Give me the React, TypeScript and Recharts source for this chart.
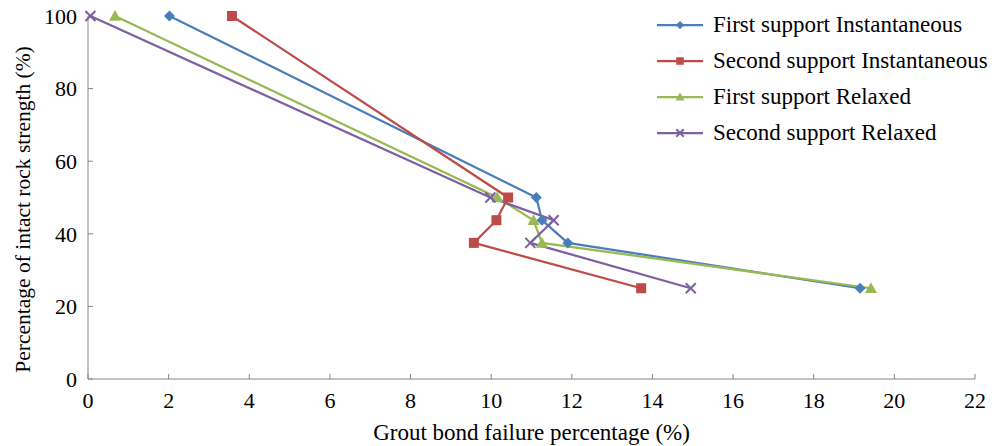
import { LineChart, Line, XAxis, YAxis } from 'recharts';

const strengthLevels = [100, 50, 43.75, 37.5, 25];
const firstInstantX = [2.02, 11.12, 11.26, 11.9, 19.15];
const secondInstantX = [3.57, 10.42, 10.13, 9.57, 13.72];
const firstRelaxedX = [0.67, 10.15, 11.05, 11.26, 19.42];
const secondRelaxedX = [0.06, 9.98, 11.55, 10.97, 14.95];
const xTicks = [0, 2, 4, 6, 8, 10, 12, 14, 16, 18, 20, 22];
const yTicks = [0, 20, 40, 60, 80, 100];

const FONT = '"Liberation Serif", "Times New Roman", serif';
const AXIS = '#868686';

type Shape = 'diamond' | 'square' | 'triangle' | 'cross';

const series: { name: string; xs: number[]; color: string; shape: Shape }[] = [
  { name: 'First support Instantaneous', xs: firstInstantX, color: '#4A7EBB', shape: 'diamond' },
  { name: 'Second support Instantaneous', xs: secondInstantX, color: '#BE4B48', shape: 'square' },
  { name: 'First support Relaxed', xs: firstRelaxedX, color: '#98B954', shape: 'triangle' },
  { name: 'Second support Relaxed', xs: secondRelaxedX, color: '#7D60A0', shape: 'cross' },
];

function Marker({ cx, cy, shape, color, r }: { cx: number; cy: number; shape: Shape; color: string; r: number }) {
  if (shape === 'diamond')
    return <polygon points={`${cx},${cy - r} ${cx + r},${cy} ${cx},${cy + r} ${cx - r},${cy}`} fill={color} />;
  if (shape === 'square')
    return <rect x={cx - r} y={cy - r} width={r * 2} height={r * 2} fill={color} />;
  if (shape === 'triangle')
    return <polygon points={`${cx},${cy - r} ${cx + r},${cy + r * 0.8} ${cx - r},${cy + r * 0.8}`} fill={color} />;
  return (
    <g stroke={color} strokeWidth={2}>
      <line x1={cx - r} y1={cy - r} x2={cx + r} y2={cy + r} />
      <line x1={cx - r} y1={cy + r} x2={cx + r} y2={cy - r} />
    </g>
  );
}

const markerSize: Record<Shape, number> = { diamond: 5.5, square: 5, triangle: 6, cross: 5 };

// legend drawn over the chart so it does not take plot space
function LegendBox() {
  return (
    <svg width={350} height={150} style={{ position: 'absolute', left: 650, top: 6 }}>
      {series.map((s, i) => {
        const y = 19 + i * 36;
        return (
          <g key={s.name}>
            <line x1={7} x2={53} y1={y} y2={y} stroke={s.color} strokeWidth={2.25} />
            <Marker cx={30} cy={y} shape={s.shape} color={s.color} r={markerSize[s.shape] * 0.75} />
            <text x={63} y={y + 7} fontFamily={FONT} fontSize={23} fill="#000">
              {s.name}
            </text>
          </g>
        );
      })}
    </svg>
  );
}

export default function App() {
  return (
    <div style={{ position: 'absolute', left: 0, top: 0, width: 1003, height: 446, background: '#fff' }}>
      <LineChart width={1003} height={446} margin={{ top: 16, right: 28, bottom: 0, left: 0 }}>
        <XAxis
          type="number"
          dataKey="x"
          domain={[0, 22]}
          ticks={xTicks}
          allowDuplicatedCategory={false}
          height={67}
          stroke={AXIS}
          tickSize={-5}
          tickMargin={18}
          tick={{ fill: '#000', fontFamily: FONT, fontSize: 22 }}
          label={{ value: 'Grout bond failure percentage (%)', position: 'center', dy: 19, fill: '#000', fontFamily: FONT, fontSize: 23 }}
        />
        <YAxis
          type="number"
          dataKey="y"
          domain={[0, 100]}
          ticks={yTicks}
          width={88}
          stroke={AXIS}
          tickSize={-5}
          tickMargin={16}
          tick={{ fill: '#000', fontFamily: FONT, fontSize: 22 }}
          label={{ value: 'Percentage of intact rock strength (%)', angle: -90, position: 'center', dx: -22, dy: 12, fill: '#000', fontFamily: FONT, fontSize: 21.5 }}
        />
        {series.map((s) => (
          <Line
            key={s.name}
            name={s.name}
            data={s.xs.map((x, i) => ({ x, y: strengthLevels[i] }))}
            dataKey="y"
            stroke={s.color}
            strokeWidth={2.25}
            isAnimationActive={false}
            dot={(p: any) => (
              <Marker key={`${s.name}-${p.index}`} cx={p.cx} cy={p.cy} shape={s.shape} color={s.color} r={markerSize[s.shape]} />
            )}
            activeDot={false}
          />
        ))}
      </LineChart>
      <LegendBox />
    </div>
  );
}
